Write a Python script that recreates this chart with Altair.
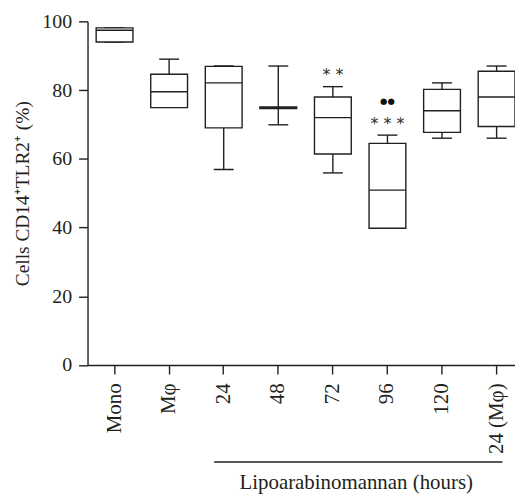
import altair as alt
import pandas as pd

# ---- data ----
categories = ["Mono", "Mφ", "24", "48", "72", "96", "120", "24 (Mφ)"]
mins    = [94.0, 75.0, 56.9, 69.9, 55.9, 39.8, 66.0, 66.0]
q1s     = [94.0, 74.9, 69.0, 74.6, 61.4, 39.8, 67.7, 69.4]
medians = [97.4, 79.5, 82.1, 74.9, 72.0, 50.9, 74.0, 78.0]
q3s     = [98.1, 84.6, 86.9, 75.1, 78.0, 64.5, 80.2, 85.5]
maxs    = [98.1, 89.0, 87.0, 87.0, 81.0, 66.9, 82.1, 87.0]

star_cats = ["72", "96"]
star_y    = [85.0, 70.6]
star_text = ["* *", "* * *"]

dot_cats = ["96"]
dot_y    = [76.9]
dot_text = ["●●"]

bracket_start = ["24"]
bracket_end   = ["24 (Mφ)"]
bracket_label = ["Lipoarabinomannan (hours)"]
label_anchor  = ["72"]

y_ticks = [0, 20, 40, 60, 80, 100]

# ---- tables ----
df = pd.DataFrame({"cat": categories, "lo": mins, "q1": q1s, "med": medians,
                   "q3": q3s, "hi": maxs})
stars = pd.DataFrame({"cat": star_cats, "y": star_y, "t": star_text})
dots = pd.DataFrame({"cat": dot_cats, "y": dot_y, "t": dot_text})
bracket = pd.DataFrame({"cat": bracket_start, "end": bracket_end})
blabel = pd.DataFrame({"cat": label_anchor, "t": bracket_label})

C = "#231f20"
SERIF = "Liberation Serif"
SW = 1.4

xscale = alt.Scale(domain=categories, paddingInner=0.326, paddingOuter=0.079, align=1)
x = alt.X("cat:N", sort=categories, scale=xscale, title=None,
          axis=alt.Axis(labelAngle=-90, tickSize=9, labelPadding=9, labelFontSize=21))
yscale = alt.Scale(domain=[0, 100], nice=False)
y_axis = alt.Axis(values=y_ticks, tickSize=9, labelPadding=7, grid=False,
                  title="Cells CD14⁺TLR2⁺ (%)", titleFontSize=19.5, titlePadding=9,
                  titleFontWeight="normal", labelFontSize=20)

base = alt.Chart(df)

wh_top = base.mark_rule(color=C, strokeWidth=SW).encode(
    x=x, y=alt.Y("q3:Q", scale=yscale, axis=y_axis), y2="hi:Q")
wh_bot = base.mark_rule(color=C, strokeWidth=SW).encode(
    x=x, y=alt.Y("lo:Q", scale=yscale), y2="q1:Q")
cap_top = base.mark_tick(orient="horizontal", size=20, thickness=SW, color=C, opacity=1).encode(
    x=x, y=alt.Y("hi:Q", scale=yscale))
cap_bot = base.mark_tick(orient="horizontal", size=20, thickness=SW, color=C, opacity=1).encode(
    x=x, y=alt.Y("lo:Q", scale=yscale))
box = base.mark_bar(fill="white", stroke=C, strokeWidth=SW, opacity=1).encode(
    x=x, y=alt.Y("q1:Q", scale=yscale), y2="q3:Q")
med = base.mark_tick(orient="horizontal", size=37, thickness=SW, color=C, opacity=1).encode(
    x=x, y=alt.Y("med:Q", scale=yscale))

star_layer = alt.Chart(stars).mark_text(font="DejaVu Sans", fontSize=16, color="#2a2a2a",
                                        baseline="middle", dy=2).encode(
    x=alt.X("cat:N", sort=categories, scale=xscale), y=alt.Y("y:Q", scale=yscale), text="t:N")
dot_layer = alt.Chart(dots).mark_text(font="DejaVu Sans", fontSize=8.5, color="#111",
                                      baseline="middle").encode(
    x=alt.X("cat:N", sort=categories, scale=xscale), y=alt.Y("y:Q", scale=yscale), text="t:N")

bracket_line = alt.Chart(bracket).mark_rule(color=C, strokeWidth=SW).encode(
    x=alt.X("cat:N", sort=categories, scale=xscale, bandPosition=0.24),
    x2=alt.X2("end:N", bandPosition=0.66),
    y=alt.value(443.3))
bracket_text = alt.Chart(blabel).mark_text(font=SERIF, fontSize=21, color=C,
                                           baseline="alphabetic", dx=23.5).encode(
    x=alt.X("cat:N", sort=categories, scale=xscale), y=alt.value(470), text="t:N")

chart = alt.layer(wh_top, wh_bot, cap_top, cap_bot, box, med, star_layer, dot_layer,
                  bracket_line, bracket_text).properties(
    width=430, height=345.7,
    autosize=alt.AutoSizeParams(type="none"),
    padding={"left": 80, "top": 12, "right": 0, "bottom": 130},
).configure_view(stroke=None).configure_axis(
    labelFont=SERIF, titleFont=SERIF, labelColor=C, titleColor=C,
    domainColor=C, tickColor=C, domainWidth=SW, tickWidth=SW,
)

chart.save("out.html", embed_options={"renderer": "svg", "actions": False})
